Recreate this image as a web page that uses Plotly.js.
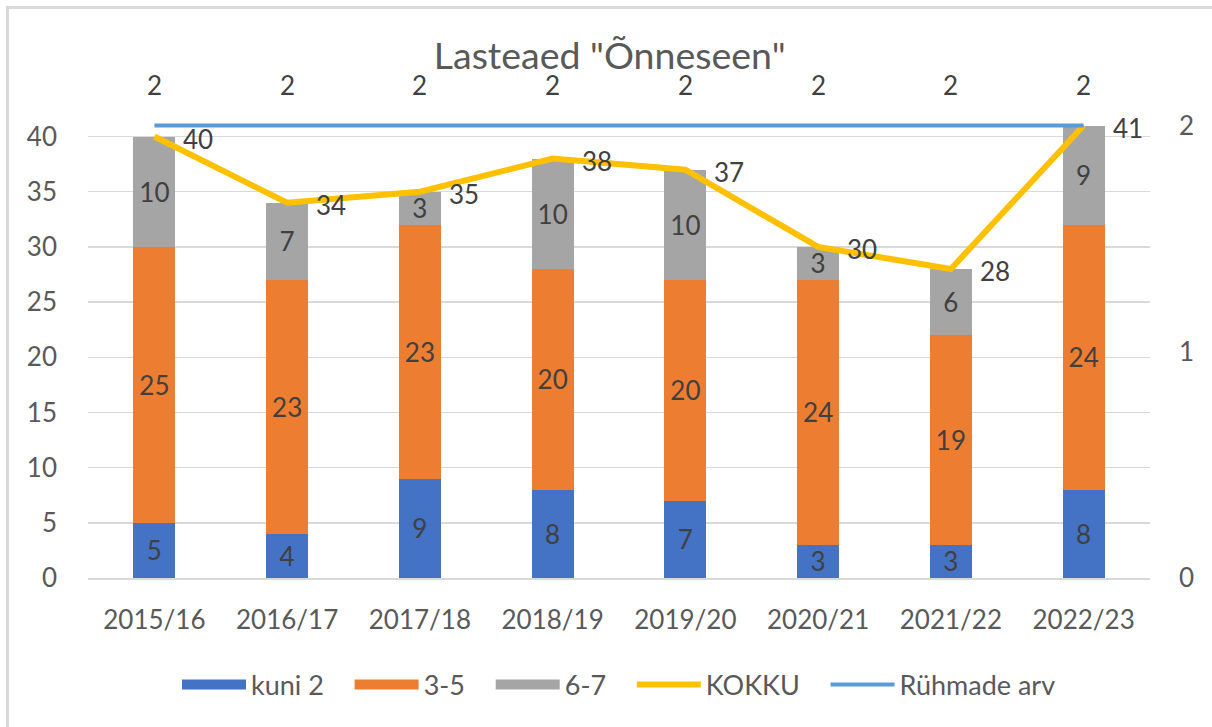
<!DOCTYPE html>
<html>
<head>
<meta charset="utf-8">
<script src="https://cdn.plot.ly/plotly-3.0.1.min.js"></script>
<style>
  html, body { margin: 0; padding: 0; background: #fff; overflow: hidden; }
  #wrap { position: relative; width: 1212px; height: 727px; overflow: hidden; }
  #chart { position: absolute; left: 0; top: 0; width: 1212px; height: 727px; }
  #frame { position: absolute; left: 6px; top: 6px; width: 1300px; height: 800px;
           border-left: 3px solid #D9D9D9; border-top: 3px solid #D9D9D9; pointer-events: none; }
</style>
</head>
<body>
<div id="wrap">
  <div id="chart"></div>
  <div id="frame"></div>
</div>
<script>
const years = ["2015/16", "2016/17", "2017/18", "2018/19", "2019/20", "2020/21", "2021/22", "2022/23"];
const kuni2 = [5, 4, 9, 8, 7, 3, 3, 8];
const age35 = [25, 23, 23, 20, 20, 24, 19, 24];
const age67 = [10, 7, 3, 10, 10, 3, 6, 9];
const kokku = [40, 34, 35, 38, 37, 30, 28, 41];
const ruhmad = [2, 2, 2, 2, 2, 2, 2, 2];
const seriesNames = ["kuni 2", "3-5", "6-7", "KOKKU", "Rühmade arv"];
const leftTicks = [0, 5, 10, 15, 20, 25, 30, 35, 40];
const rightTicks = [0, 1, 2];
const chartTitle = 'Lasteaed "Õnneseen"';

const FONT = "Lato, 'Open Sans', sans-serif";
const TICK = "#595959";
const LABEL = "#404040";
const COLORS = ["#4472C4", "#ED7D31", "#A5A5A5", "#FFC000", "#5B9BD5"];
const FS = 26;
// spacing after each legend entry (non-breaking spaces), none after the last one
const PAD = "\u00a0\u00a0\u00a0";
function legName(i) { return i < seriesNames.length - 1 ? seriesNames[i] + PAD : seriesNames[i]; }

// axes tops a little above the highest value so the top lines are not clipped
const Y1MAX = 41.5;
const Y2MAX = 2 * Y1MAX / 41;

function barTrace(i, vals) {
  return {
    type: "bar", name: seriesNames[i], x: years, y: vals, legendgroup: "g" + i, showlegend: false,
    marker: { color: COLORS[i] },
    text: vals.map(String), textposition: "inside", insidetextanchor: "middle",
    textangle: 0, constraintext: "none",
    textfont: { family: FONT, size: FS, color: LABEL },
    hoverinfo: "skip"
  };
}
// legend-only swatch (wide rectangle like the original legend keys)
function swatch(i) {
  return { type: "scatter", mode: "lines", name: legName(i), x: [null], y: [null],
           legendgroup: "g" + i, line: { color: COLORS[i], width: 20 }, hoverinfo: "skip" };
}

const traces = [
  barTrace(0, kuni2),
  barTrace(1, age35),
  barTrace(2, age67),
  swatch(0), swatch(1), swatch(2),
  { type: "scatter", mode: "lines", name: legName(3), x: years, y: kokku, cliponaxis: false,
    line: { color: COLORS[3], width: 6 }, hoverinfo: "skip" },
  { type: "scatter", mode: "lines", name: legName(4), x: years, y: ruhmad, yaxis: "y2",
    cliponaxis: false, line: { color: COLORS[4], width: 4 }, hoverinfo: "skip" }
];

const annotations = [];
years.forEach((yr, i) => {
  annotations.push({ x: yr, y: kokku[i], xref: "x", yref: "y", text: String(kokku[i]),
    showarrow: false, xanchor: "center", yanchor: "middle", xshift: 44, yshift: -2,
    font: { family: FONT, size: FS, color: LABEL } });
  annotations.push({ x: yr, y: ruhmad[i], xref: "x", yref: "y2", text: String(ruhmad[i]),
    showarrow: false, xanchor: "center", yanchor: "middle", yshift: 41,
    font: { family: FONT, size: FS, color: LABEL } });
});

const layout = {
  width: 1212, height: 727,
  margin: { l: 88, r: 62, t: 120, b: 149 },
  paper_bgcolor: "#fff", plot_bgcolor: "#fff",
  font: { family: FONT, size: FS, color: TICK },
  title: { text: chartTitle, x: 0.503, xanchor: "center", y: 1 - 56 / 727, yanchor: "middle",
           yref: "container", font: { family: FONT, size: 37.5, color: TICK } },
  barmode: "stack", bargap: 0.684,
  showlegend: true,
  legend: { orientation: "h", x: 0.5, xanchor: "center", y: -0.2336, yanchor: "middle",
            traceorder: "normal", font: { family: FONT, size: 27, color: TICK },
            itemwidth: 64 },
  xaxis: { type: "category", showline: true, linecolor: "#D9D9D9", linewidth: 2,
           ticks: "", ticklabelstandoff: 18, tickfont: { family: FONT, size: FS, color: TICK },
           fixedrange: true },
  yaxis: { range: [0, Y1MAX], tickvals: leftTicks, showgrid: true,
           gridcolor: "#D9D9D9", gridwidth: 1.5, zeroline: false, showline: false, ticks: "",
           ticklabelstandoff: 30, tickfont: { family: FONT, size: FS, color: TICK }, fixedrange: true },
  yaxis2: { overlaying: "y", side: "right", range: [0, Y2MAX], tickvals: rightTicks, showgrid: false,
            zeroline: false, showline: false, ticks: "", ticklabelstandoff: 28,
            tickfont: { family: FONT, size: FS, color: TICK }, fixedrange: true },
  annotations: annotations
};

Plotly.newPlot("chart", traces, layout, { displayModeBar: false, staticPlot: true });
</script>
</body>
</html>
